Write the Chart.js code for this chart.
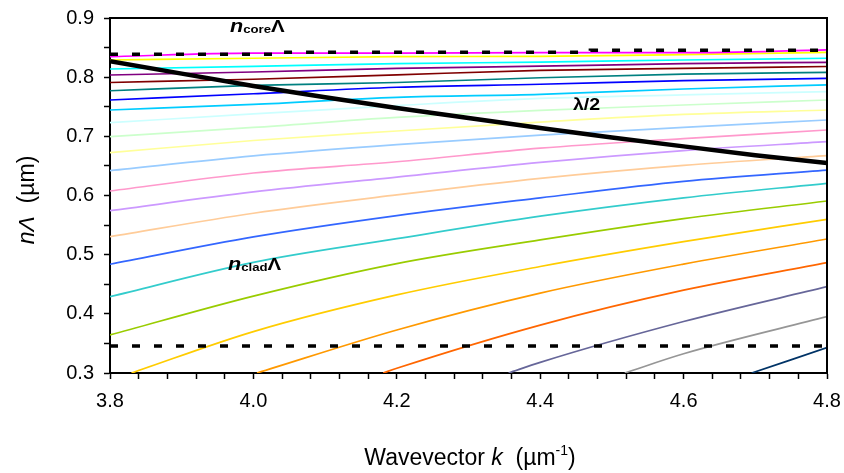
<!DOCTYPE html>
<html>
<head>
<meta charset="utf-8">
<script src="https://cdn.jsdelivr.net/npm/chart.js@4.4.1/dist/chart.umd.min.js"></script>
<style>
  html, body { margin: 0; padding: 0; background: #fff; }
</style>
</head>
<body>
<canvas id="modes" width="844" height="473"></canvas>
<script>
const kGrid = [3.8, 4.0, 4.2, 4.4, 4.6, 4.8];

// Excel palette, top mode first
const modeColors = [
    '#FF00FF', '#FFFF00', '#00FFFF', '#800080', '#800000', '#008080',
    '#0000FF', '#00CCFF', '#CCFFFF', '#CCFFCC', '#FFFF99', '#99CCFF',
    '#FF99CC', '#CC99FF', '#FFCC99', '#3366FF', '#33CCCC', '#99CC00',
    '#FFCC00', '#FF9900', '#FF6600', '#666699', '#969696', '#003366'
];

// n*Lambda (um) at kGrid, null where the mode is still below the axis
const modeValues = [
    [0.8346, 0.8405, 0.8405, 0.8414, 0.8414, 0.8460],
    [0.8290, 0.8320, 0.8346, 0.8352, 0.8380, 0.8420],
    [0.8138, 0.8183, 0.8228, 0.8255, 0.8290, 0.8320],
    [0.8037, 0.8087, 0.8150, 0.8185, 0.8230, 0.8250],
    [0.7910, 0.7965, 0.8040, 0.8115, 0.8150, 0.8180],
    [0.7770, 0.7860, 0.7910, 0.7990, 0.8050, 0.8080],
    [0.7614, 0.7720, 0.7830, 0.7880, 0.7940, 0.7980],
    [0.7445, 0.7540, 0.7660, 0.7710, 0.7800, 0.7870],
    [0.7230, 0.7380, 0.7520, 0.7640, 0.7700, 0.7755],
    [0.6994, 0.7150, 0.7320, 0.7440, 0.7530, 0.7614],
    [0.6724, 0.6930, 0.7090, 0.7240, 0.7370, 0.7445],
    [0.6420, 0.6670, 0.6860, 0.7020, 0.7150, 0.7276],
    [0.6076, 0.6380, 0.6570, 0.6800, 0.6960, 0.7107],
    [0.5743, 0.6060, 0.6310, 0.6560, 0.6760, 0.6910],
    [0.5304, 0.5700, 0.6010, 0.6290, 0.6510, 0.6673],
    [0.4838, 0.5300, 0.5660, 0.5960, 0.6240, 0.6430],
    [0.4290, 0.4870, 0.5270, 0.5650, 0.5960, 0.6206],
    [0.3643, 0.4300, 0.4850, 0.5250, 0.5610, 0.5907],
    [null, 0.3700, 0.4320, 0.4800, 0.5220, 0.5598],
    [null, null, 0.3727, 0.4350, 0.4840, 0.5265],
    [null, null, 0.3080, 0.3810, 0.4400, 0.4865],
    [null, null, null, 0.3180, 0.3870, 0.4459],
    [null, null, null, null, 0.3325, 0.3952],
    [null, null, null, null, null, 0.3428]
];

// k where the lower modes come up through the 0.3 axis
const modeStartK = [
    null, null, null, null, null, null, null, null, null, null, null, null,
    null, null, null, null, null, null, 3.83, 4.005, 4.181, 4.356, 4.518, 4.695
];

// lambda/2 curve
const halfLambdaK = [3.8, 3.9, 4.0, 4.1, 4.2, 4.3, 4.4, 4.5, 4.6, 4.7, 4.8];
const halfLambda = [0.827, 0.806, 0.785, 0.766, 0.748, 0.731, 0.714, 0.698, 0.683, 0.668, 0.655];

// n_core*Lambda and n_clad*Lambda limits
const coreK = [3.8, 4.04, 4.47, 4.8];
const coreLevel = [0.8387, 0.8420, 0.8454, 0.8454];
const cladK = [3.8, 4.8];
const cladLevel = [0.3456, 0.3456];

const xTickLabels = ['3.8', '4.0', '4.2', '4.4', '4.6', '4.8'];
const yTickLabels = ['0.3', '0.4', '0.5', '0.6', '0.7', '0.8', '0.9'];

const FONT = "'Liberation Sans', Arial, sans-serif";

function toPoints(ks, vals) {
    return ks.map((k, i) => vals[i] == null ? null : { x: k, y: vals[i] }).filter(Boolean);
}

function onlyLabels(labels) {
    return (v) => {
        const s = v.toFixed(1);
        return labels.includes(s) && Math.abs(v - parseFloat(s)) < 1e-6 ? s : '';
    };
}

// keep the plot box where the layout padding puts it
function noLabelPadding(s) {
    s.paddingLeft = 0;
    s.paddingRight = 0;
    s.paddingTop = 0;
    s.paddingBottom = 0;
}

const datasets = [
    { data: toPoints(halfLambdaK, halfLambda), borderColor: '#000', borderWidth: 4.5 },
    { data: toPoints(coreK, coreLevel), borderColor: '#000', borderWidth: 3.5, borderDash: [8, 14], stepped: 'before' },
    { data: toPoints(cladK, cladLevel), borderColor: '#000', borderWidth: 3.5, borderDash: [8, 14] }
];

modeValues.forEach((vals, i) => {
    const start = modeStartK[i] != null ? [{ x: modeStartK[i], y: 0.3 }] : [];
    datasets.push({
        data: start.concat(toPoints(kGrid, vals)),
        borderColor: modeColors[i],
        borderWidth: 1.7,
        cubicInterpolationMode: 'monotone'
    });
});

// text made of runs in different styles, optionally stretched sideways
function drawRuns(ctx, runs, x, y, center, sx) {
    sx = sx || 1;
    let total = 0;
    runs.forEach(r => { ctx.font = r[1]; total += ctx.measureText(r[0]).width; });
    ctx.save();
    ctx.translate(x, y);
    ctx.scale(sx, 1);
    let cx = center ? -total / 2 : 0;
    runs.forEach(r => {
        ctx.font = r[1];
        ctx.fillText(r[0], cx, r[2] || 0);
        cx += ctx.measureText(r[0]).width;
    });
    ctx.restore();
}

const decorations = {
    id: 'decorations',
    afterDraw(chart) {
        const ctx = chart.ctx;
        const a = chart.chartArea;
        ctx.save();
        // frame top and right
        ctx.strokeStyle = '#000';
        ctx.lineWidth = 2;
        ctx.beginPath();
        ctx.moveTo(a.left, a.top);
        ctx.lineTo(a.right, a.top);
        ctx.lineTo(a.right, a.bottom);
        ctx.stroke();

        ctx.fillStyle = '#000';
        ctx.textAlign = 'left';
        ctx.textBaseline = 'alphabetic';

        drawRuns(ctx, [
            ['n', 'italic bold 18px ' + FONT],
            ['core', 'bold 11px ' + FONT, 1],
            ['\u039B', 'bold 17px ' + FONT]
        ], 230, 32, false, 1.2);

        drawRuns(ctx, [
            ['n', 'italic bold 18px ' + FONT],
            ['clad', 'bold 11px ' + FONT, 1],
            ['\u039B', 'bold 17px ' + FONT]
        ], 228, 270, false, 1.2);

        drawRuns(ctx, [['\u03BB/2', 'bold 17px ' + FONT]], 573, 110, false, 1.15);

        // x title
        drawRuns(ctx, [
            ['Wavevector ', '23px ' + FONT],
            ['k', 'italic 23px ' + FONT],
            ['  (\u00B5m', '23px ' + FONT],
            ['-1', '14px ' + FONT, -10],
            [')', '23px ' + FONT]
        ], 470, 465, true);

        // y title
        ctx.translate(34, 200);
        ctx.rotate(-Math.PI / 2);
        drawRuns(ctx, [
            ['n', 'italic 23px ' + FONT],
            ['\u039B', 'italic 23px ' + FONT],
            ['  (\u00B5m)', '23px ' + FONT]
        ], 0, 0, true);
        ctx.restore();
    }
};

new Chart(document.getElementById('modes'), {
    type: 'line',
    data: { datasets },
    options: {
        responsive: false,
        animation: false,
        events: [],
        layout: { padding: { top: 18, right: 17, left: 0, bottom: 0 } },
        elements: {
            point: { radius: 0 },
            line: { tension: 0, borderCapStyle: 'butt' }
        },
        scales: {
            x: {
                type: 'linear',
                min: 3.8,
                max: 4.8,
                afterFit: (s) => { s.height = 100; noLabelPadding(s); },
                ticks: {
                    stepSize: 0.04,
                    maxTicksLimit: 30,
                    autoSkip: false,
                    maxRotation: 0,
                    color: '#000',
                    padding: 10,
                    font: { family: FONT, size: 20 },
                    callback: onlyLabels(xTickLabels)
                },
                grid: { drawOnChartArea: false, tickLength: 6, tickColor: '#000', tickWidth: 1.5 },
                border: { color: '#000', width: 2 }
            },
            y: {
                type: 'linear',
                min: 0.3,
                max: 0.9,
                afterFit: (s) => { s.width = 110; noLabelPadding(s); },
                ticks: {
                    stepSize: 0.05,
                    maxTicksLimit: 20,
                    autoSkip: false,
                    color: '#000',
                    padding: 10,
                    font: { family: FONT, size: 20 },
                    callback: onlyLabels(yTickLabels)
                },
                grid: { drawOnChartArea: false, tickLength: 6, tickColor: '#000', tickWidth: 1.5 },
                border: { color: '#000', width: 2 }
            }
        },
        plugins: {
            legend: { display: false },
            tooltip: { enabled: false }
        }
    },
    plugins: [decorations]
});
</script>
</body>
</html>
